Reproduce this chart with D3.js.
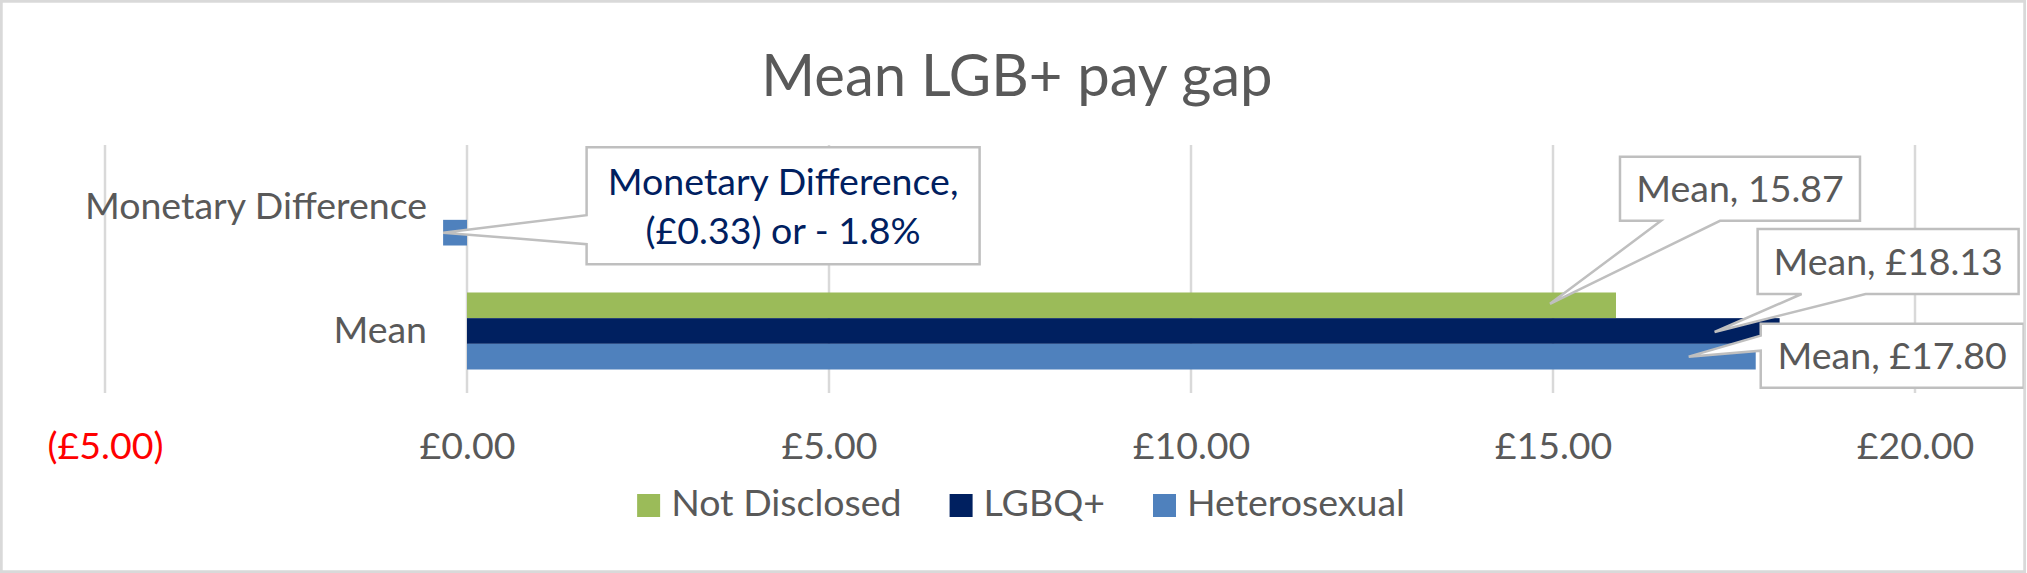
<!DOCTYPE html>
<html>
<head>
<meta charset="utf-8">
<script src="https://cdn.jsdelivr.net/npm/d3@7"></script>
<style>
  html, body { margin: 0; padding: 0; background: #ffffff; }
  svg { display: block; }
  text { font-family: Lato, "Open Sans", sans-serif; }
</style>
</head>
<body>
<svg id="chart" width="2027" height="573"></svg>
<script>
// ---------- DATA ----------
const title = "Mean LGB+ pay gap";
const categories = ["Monetary Difference", "Mean"];          // top to bottom
const seriesNames = ["Not Disclosed", "LGBQ+", "Heterosexual"]; // top to bottom inside a group / legend order
const notDisclosedValues = [null, 15.87];
const lgbqValues = [null, 18.13];
const heterosexualValues = [-0.33, 17.80];
const monetaryDifferencePercent = [-1.8];
const xTicks = [-5, 0, 5, 10, 15, 20];
const xDomain = [-5, 20];

// ---------- STYLE / LAYOUT ----------
const W = 2027, H = 573;
const plot = { left: 105, right: 1915, top: 145, bottom: 393 };
const colors = { "Not Disclosed": "#9BBB59", "LGBQ+": "#002060", "Heterosexual": "#4F81BD" };
const textGray = "#595959";
const gridColor = "#D9D9D9";
const calloutStroke = "#BFBFBF";
const fontSize = 37.5;

const seriesValues = {
  "Not Disclosed": notDisclosedValues,
  "LGBQ+": lgbqValues,
  "Heterosexual": heterosexualValues
};

const svg = d3.select("#chart");

// chart background
svg.append("rect")
  .attr("x", 1.25).attr("y", 1.25).attr("width", W - 3.5).attr("height", H - 2.5)
  .attr("fill", "#fff").attr("stroke", gridColor).attr("stroke-width", 2.5);

// scales
const x = d3.scaleLinear().domain(xDomain).range([plot.left, plot.right]);
const y = d3.scaleBand().domain(categories).range([plot.top, plot.bottom])
  .paddingInner(0.379).paddingOuter(0.1895);
const ySub = d3.scaleBand().domain(seriesNames).range([0, y.bandwidth()]);

// title
svg.append("text")
  .attr("x", 1017).attr("y", 96)
  .attr("text-anchor", "middle")
  .attr("fill", textGray)
  .attr("font-size", 58)
  .text(title);

// gridlines
svg.append("g").selectAll("line").data(xTicks).join("line")
  .attr("x1", d => x(d)).attr("x2", d => x(d))
  .attr("y1", plot.top).attr("y2", plot.bottom)
  .attr("stroke", gridColor).attr("stroke-width", 2.5);

// x axis tick labels
const fmtMoney = v => {
  const s = "£" + d3.format(".2f")(Math.abs(v));
  return v < 0 ? "(" + s + ")" : s;
};
const xAxis = d3.axisBottom(x).tickValues(xTicks).tickSize(0).tickPadding(0).tickFormat(fmtMoney);
const xAxisG = svg.append("g").attr("transform", `translate(0,${plot.bottom})`).call(xAxis);
xAxisG.select(".domain").remove();
xAxisG.selectAll("text")
  .attr("y", 66).attr("dy", null)
  .attr("font-size", fontSize)
  .attr("font-family", "Lato, 'Open Sans', sans-serif")
  .attr("fill", d => d < 0 ? "#FF0000" : textGray);

// category labels
const yAxis = d3.axisLeft(y).tickSize(0).tickPadding(0);
const yAxisG = svg.append("g").attr("transform", `translate(${x(0) - 40},0)`).call(yAxis);
yAxisG.select(".domain").remove();
yAxisG.selectAll("text")
  .attr("x", 0).attr("dy", null)
  .attr("y", 12)
  .attr("font-size", fontSize)
  .attr("font-family", "Lato, 'Open Sans', sans-serif")
  .attr("fill", textGray);

// bars
const barData = [];
seriesNames.forEach(s => {
  categories.forEach((c, i) => {
    const v = seriesValues[s][i];
    if (v !== null && v !== undefined) barData.push({ series: s, cat: c, value: v });
  });
});
svg.append("g").selectAll("rect").data(barData).join("rect")
  .attr("x", d => x(Math.min(0, d.value)))
  .attr("width", d => Math.abs(x(d.value) - x(0)))
  .attr("y", d => y(d.cat) + ySub(d.series))
  .attr("height", ySub.bandwidth())
  .attr("fill", d => colors[d.series]);

// ---------- CALLOUT DATA LABELS ----------
const labelText = d => {
  if (d.cat === "Monetary Difference") {
    return [d.cat + ",", fmtMoney(d.value) + " or - " + Math.abs(monetaryDifferencePercent[0]) + "%"];
  }
  if (d.series === "Not Disclosed") return [d.cat + ", " + d3.format(".2f")(d.value)];
  return [d.cat + ", " + fmtMoney(d.value)];
};
// layout offsets relative to the bar end / bar centre
const calloutLayout = {
  "Not Disclosed|Mean":             { box: [4, -148.5, 240, 64], side: "bottom", base: [41, 100], tip: [-66, -1.5], color: textGray },
  "LGBQ+|Mean":                     { box: [-22, -102, 261, 65], side: "bottom", base: [44, 108], tip: [-65, 1], color: textGray },
  "Heterosexual|Mean":              { box: [5, -33, 263, 64], side: "left", base: [12, 27], tip: [-67, 0], color: textGray },
  "Heterosexual|Monetary Difference": { box: [143.5, -85.5, 393, 117], side: "left", base: [68, 97], tip: [0, 0], color: "#002060" }
};

function calloutPath(bx, by, bw, bh, side, a, b, tx, ty) {
  if (side === "bottom") {
    return `M${bx},${by}H${bx + bw}V${by + bh}H${bx + b}L${tx},${ty}L${bx + a},${by + bh}H${bx}Z`;
  }
  return `M${bx},${by}H${bx + bw}V${by + bh}H${bx}V${by + b}L${tx},${ty}L${bx},${by + a}Z`;
}

const labelG = svg.append("g");
const order = ["Heterosexual|Monetary Difference", "Not Disclosed|Mean", "LGBQ+|Mean", "Heterosexual|Mean"];
order.forEach(key => {
  const d = barData.find(b => b.series + "|" + b.cat === key);
  const L = calloutLayout[key];
  const ex = x(d.value);
  const ey = y(d.cat) + ySub(d.series) + ySub.bandwidth() / 2;
  const bx = ex + L.box[0], by = ey + L.box[1], bw = L.box[2], bh = L.box[3];
  labelG.append("path")
    .attr("d", calloutPath(bx, by, bw, bh, L.side, L.base[0], L.base[1], ex + L.tip[0], ey + L.tip[1]))
    .attr("fill", "#fff")
    .attr("stroke", calloutStroke)
    .attr("stroke-width", 2.5)
    .attr("stroke-linejoin", "miter");
  const lines = labelText(d);
  const cx = bx + bw / 2, cy = by + bh / 2;
  const t = labelG.append("text")
    .attr("text-anchor", "middle")
    .attr("font-size", fontSize)
    .attr("fill", L.color);
  if (lines.length === 1) {
    t.append("tspan").attr("x", cx).attr("y", cy + 13.5).text(lines[0]);
  } else {
    t.append("tspan").attr("x", cx).attr("y", cy - 10.5).text(lines[0]);
    t.append("tspan").attr("x", cx).attr("y", cy + 38.5).text(lines[1]);
  }
});

// border on top (right edge clips the last callout)
svg.append("rect")
  .attr("x", 1.25).attr("y", 1.25).attr("width", W - 3.5).attr("height", H - 2.5)
  .attr("fill", "none").attr("stroke", gridColor).attr("stroke-width", 2.5);

// ---------- LEGEND ----------
const legendCenter = 1021, swatch = 23, swGap = 11, itemGap = 48, legendTop = 494, legendBaseline = 516;
const legendG = svg.append("g");
const items = seriesNames.map(s => {
  const g = legendG.append("g");
  g.append("rect").attr("width", swatch).attr("height", swatch).attr("y", legendTop).attr("fill", colors[s]);
  const tx = g.append("text").attr("x", swatch + swGap).attr("y", legendBaseline)
    .attr("font-size", fontSize).attr("fill", textGray).text(s);
  return { g, w: swatch + swGap + tx.node().getComputedTextLength() };
});
const totalW = d3.sum(items, d => d.w) + itemGap * (items.length - 1);
let cur = legendCenter - totalW / 2;
items.forEach(it => { it.g.attr("transform", `translate(${cur},0)`); cur += it.w + itemGap; });
</script>
</body>
</html>
